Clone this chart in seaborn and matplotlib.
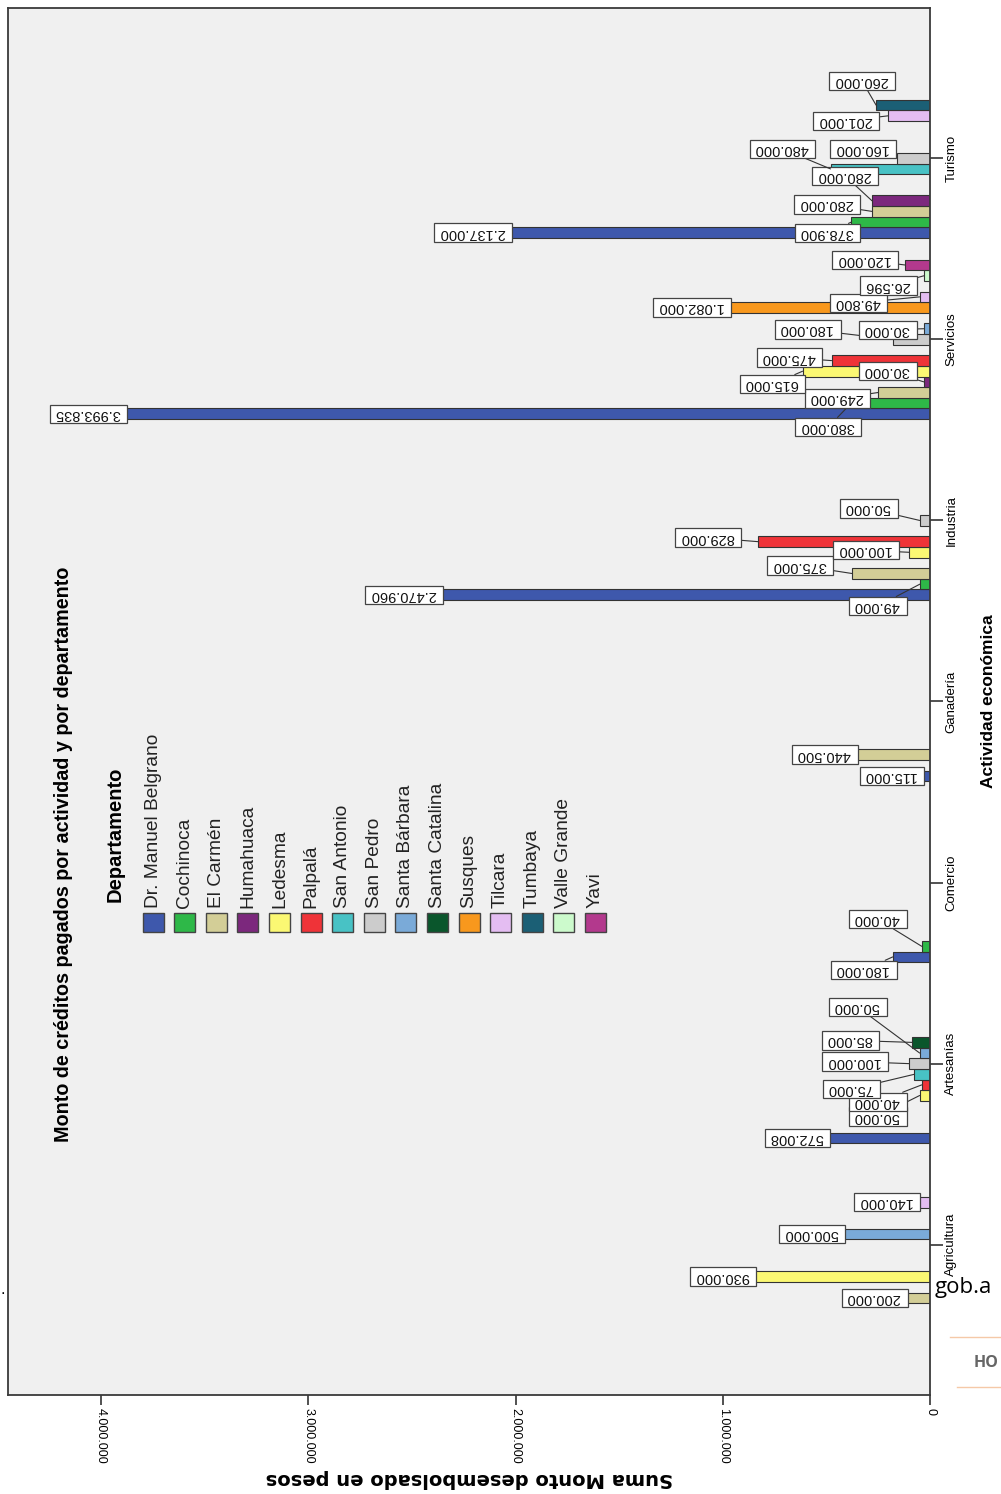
import numpy as np
import pandas as pd
import matplotlib
matplotlib.use('Agg')
import matplotlib.pyplot as plt
import seaborn as sns
from matplotlib.patches import Rectangle
from matplotlib.lines import Line2D

actividades = ['Agricultura', 'Artesanías', 'Comercio', 'Ganadería', 'Industria', 'Servicios', 'Turismo']
departamentos = ['Dr. Manuel Belgrano', 'Cochinoca', 'El Carmén', 'Humahuaca', 'Ledesma', 'Palpalá',
                 'San Antonio', 'San Pedro', 'Santa Bárbara', 'Santa Catalina', 'Susques', 'Tilcara',
                 'Tumbaya', 'Valle Grande', 'Yavi']
colores = ['#3E58AC', '#2EB848', '#D3CE97', '#7C287D', '#FBF873', '#EF3338', '#48C2C5', '#CCCCCC',
           '#7AAAD8', '#0A562C', '#F8981D', '#E4BDF2', '#1B5F75', '#CCFACC', '#B3398D']

# montos (pesos) de cada departamento, en el orden de "actividades"
dr_manuel_belgrano = [0, 572008, 180000, 115000, 2470960, 3993835, 2137000]
cochinoca = [0, 0, 40000, 0, 49000, 380000, 378900]
el_carmen = [200000, 0, 0, 440500, 375000, 249000, 280000]
humahuaca = [0, 0, 0, 0, 0, 30000, 280000]
ledesma = [930000, 50000, 0, 0, 100000, 615000, 0]
palpala = [0, 40000, 0, 0, 829000, 475000, 0]
san_antonio = [0, 75000, 0, 0, 0, 0, 480000]
san_pedro = [0, 100000, 0, 0, 50000, 180000, 160000]
santa_barbara = [500000, 50000, 0, 0, 0, 30000, 0]
santa_catalina = [0, 85000, 0, 0, 0, 0, 0]
susques = [0, 0, 0, 0, 0, 1082000, 0]
tilcara = [140000, 0, 0, 0, 0, 49800, 201000]
tumbaya = [0, 0, 0, 0, 0, 0, 260000]
valle_grande = [0, 0, 0, 0, 0, 26596, 0]
yavi = [0, 0, 0, 0, 0, 120000, 0]

montos = [dr_manuel_belgrano, cochinoca, el_carmen, humahuaca, ledesma, palpala, san_antonio,
          san_pedro, santa_barbara, santa_catalina, susques, tilcara, tumbaya, valle_grande, yavi]

ticks_monto = [0, 1000000, 2000000, 3000000, 4000000]

# etiquetas que SPSS corrio de lugar (px: dx, dy hacia abajo)
ajuste_etiquetas = {
    ('Artesanías', 'Ledesma'): (-28, 21),
    ('Artesanías', 'Palpalá'): (-30, 17),
    ('Artesanías', 'San Antonio'): (-49, 15),
    ('Artesanías', 'San Pedro'): (-40, -2),
    ('Artesanías', 'Santa Bárbara'): (-48, -46),
    ('Artesanías', 'Santa Catalina'): (-48, -2),
    ('Comercio', 'Dr. Manuel Belgrano'): (-15, 13),
    ('Comercio', 'Cochinoca'): (-30, -27),
    ('Industria', 'Cochinoca'): (-28, 22),
    ('Industria', 'El Carmén'): (-38, -8),
    ('Industria', 'Ledesma'): (-29, -2),
    ('Industria', 'Palpalá'): (-36, -4),
    ('Industria', 'San Pedro'): (-37, -12),
    ('Servicios', 'Cochinoca'): (-9, 24),
    ('Servicios', 'El Carmén'): (-27, 6),
    ('Servicios', 'Humahuaca'): (-22, -11),
    ('Servicios', 'Ledesma'): (-16, 13),
    ('Servicios', 'Palpalá'): (-28, -3),
    ('Servicios', 'San Pedro'): (-71, -10),
    ('Servicios', 'Santa Bárbara'): (-22, 1),
    ('Servicios', 'Tilcara'): (-47, 6),
    ('Servicios', 'Valle Grande'): (-22, 10),
    ('Servicios', 'Yavi'): (-26, -5),
    ('Turismo', 'Cochinoca'): (-10, 11),
    ('Turismo', 'El Carmén'): (-31, -7),
    ('Turismo', 'Humahuaca'): (-13, -25),
    ('Turismo', 'San Antonio'): (-34, -20),
    ('Turismo', 'San Pedro'): (-20, -9),
    ('Turismo', 'Tilcara'): (-28, 5),
    ('Turismo', 'Tumbaya'): (0, -24),
}

rows = []
for dep, serie in zip(departamentos, montos):
    for act, v in zip(actividades, serie):
        rows.append({'Actividad': act, 'Departamento': dep, 'Monto': v})
df = pd.DataFrame(rows)


def fmt(v):
    return f"{v:,.0f}".replace(',', '.')


W, H = 1001, 1494


def fx(x):
    return x / W


def fy(y):
    return 1 - y / H


plt.rcParams['font.family'] = ['Liberation Sans', 'DejaVu Sans']
narrow = ['Liberation Sans Narrow', 'Liberation Sans', 'DejaVu Sans']

fig = plt.figure(figsize=(W / 100, H / 100), dpi=100)
fig.patch.set_facecolor('white')
ax = fig.add_axes([fx(8), fy(1395), fx(930) - fx(8), fy(8) - fy(1395)])
ax.set_facecolor('#f0f0f0')

sns.barplot(data=df, y='Actividad', x='Monto', hue='Departamento', order=actividades,
            hue_order=departamentos, palette=dict(zip(departamentos, colores)), orient='h',
            width=0.88, saturation=1, errorbar=None, edgecolor='#333333', linewidth=0.8,
            legend=False, ax=ax)

ax.set_xlim(4.449e6, 0)
ax.set_ylim(-0.83, 6.83)

# etiquetas de valor (texto invertido como en el original)
for k, dep in enumerate(departamentos):
    for j, bar in enumerate(ax.containers[k]):
        v = montos[k][j]
        if v == 0:
            continue
        yc = bar.get_y() + bar.get_height() / 2
        xe = bar.get_x() + bar.get_width()
        key = (actividades[j], dep)
        dx, dy = ajuste_etiquetas.get(key, (0, 0))
        arrow = None
        if key in ajuste_etiquetas:
            arrow = dict(arrowstyle='-', color='#333333', lw=0.8, shrinkA=0, shrinkB=0)
        ax.annotate(' ' + fmt(v) + ' ', xy=(xe, yc), xytext=(-14 + dx, -dy),
                    textcoords='offset pixels', ha='center', va='center', rotation=180,
                    fontsize=10.5, color='#111111', zorder=6,
                    bbox=dict(boxstyle='square,pad=0.15', fc='white', ec='#444444', lw=0.9),
                    arrowprops=arrow)

ax.set_xticks(ticks_monto)
ax.set_xticklabels([fmt(t) for t in ticks_monto], rotation=270, fontsize=9, family=narrow)
ax.yaxis.tick_right()
ax.set_yticks(range(len(actividades)))
ax.set_yticklabels(actividades, rotation=90, va='center', fontsize=9.5, family=narrow)
ax.tick_params(axis='x', direction='out', length=7, width=1.2, color='#333333', pad=2)
ax.tick_params(axis='y', direction='out', length=9, width=1.2, color='#333333', pad=2,
               left=False, right=True, labelleft=False, labelright=True)

ax.set_xlabel('Suma Monto desembolsado en pesos', rotation=180, fontsize=14, fontweight='bold',
              family=['DejaVu Sans'], labelpad=4)
ax.yaxis.set_label_position('right')
ax.set_ylabel('Actividad económica', rotation=90, fontsize=12.5, fontweight='bold', labelpad=17,
              family=narrow)

for s in ax.spines.values():
    s.set_color('#3a3a3a')
    s.set_linewidth(1.3)

fig.text(fx(64), fy(854), 'Monto de créditos pagados por actividad y por departamento', rotation=90,
         ha='center', va='center', fontsize=14.2, fontweight='bold', family=narrow)

# leyenda manual, girada como el resto del grafico
fig.text(fx(115), fy(902), 'Departamento', rotation=90, ha='center', va='bottom',
         fontsize=14.5, fontweight='bold')
for i, (dep, col) in enumerate(zip(departamentos, colores)):
    cx = 153 + i * 31.6
    fig.patches.append(Rectangle((fx(cx - 10.5), fy(932)), fx(21), fy(913) - fy(932), facecolor=col,
                                 edgecolor='#444444', lw=1, transform=fig.transFigure, figure=fig))
    fig.text(fx(cx), fy(908), dep, rotation=90, ha='center', va='bottom', fontsize=13.8, family=narrow,
             color='#222222')

# restos de la captura original
fig.text(fx(935), fy(1287), 'gob.a', ha='left', va='center', fontsize=16, family=['Open Sans'])
fig.text(fx(974), fy(1363), 'HO', ha='left', va='center', fontsize=11.5, fontweight='bold',
         color='#666666', family=['Open Sans'])
fig.lines.append(Line2D([fx(950), fx(1001)], [fy(1337), fy(1337)], color='#f5c9a8', lw=1,
                        transform=fig.transFigure, figure=fig))
fig.lines.append(Line2D([fx(957), fx(1001)], [fy(1387), fy(1387)], color='#f5c9a8', lw=1,
                        transform=fig.transFigure, figure=fig))
fig.text(fx(1), fy(1290), '.', ha='left', va='center', fontsize=12)

fig.savefig('out.png', dpi=100)
